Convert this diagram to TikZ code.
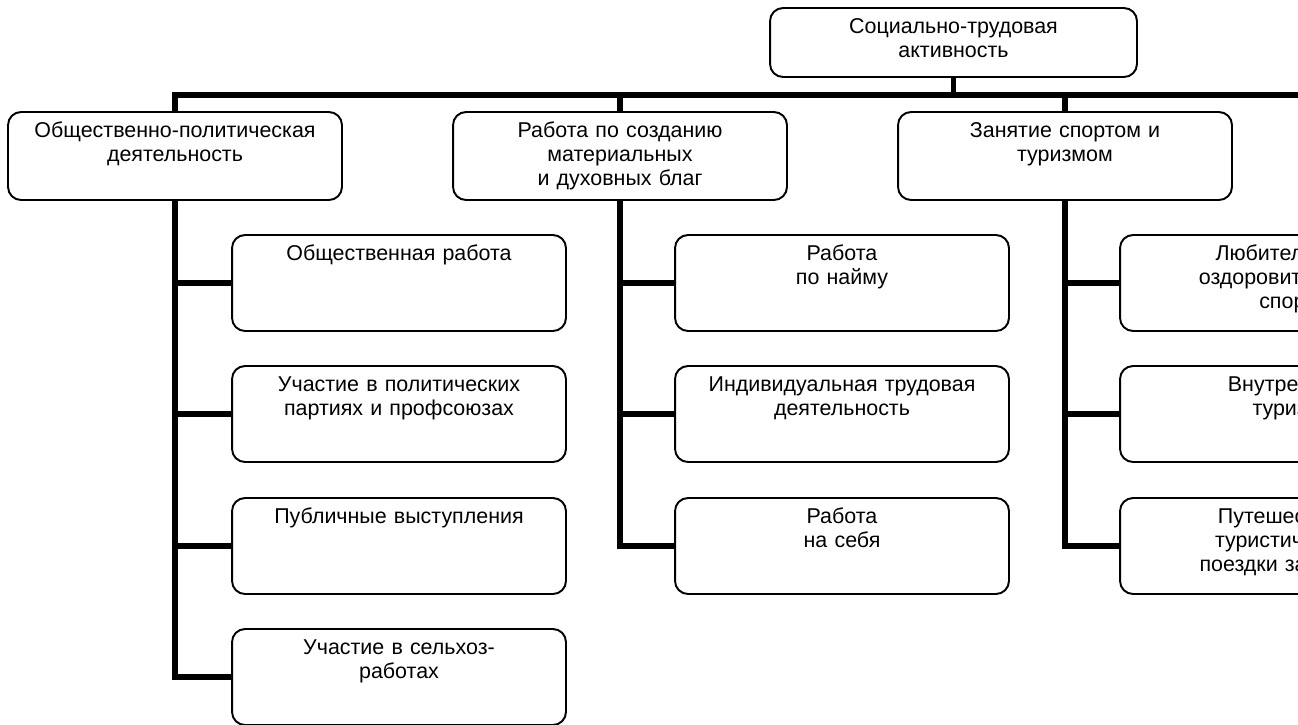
\documentclass[tikz,border=0pt]{standalone}
\usepackage{fontspec}
\setmainfont{Liberation Sans}
\usepackage{tikz}

\begin{document}
\begin{tikzpicture}[x=0.02cm, y=-0.02cm,
  every node/.style={font=\fontsize{12.2}{13.9}\selectfont},
  box/.style={draw, line width=1.1pt, rounded corners=0.26cm, align=center, inner sep=0pt, text height=0.5cm},
  topbox/.style={box, text width=7.34cm, text depth=0.88cm},
  mainbox/.style={box, text width=6.68cm, text depth=1.26cm},
  subbox/.style={box, text width=6.68cm, text depth=1.42cm},
  link/.style={line width=3.3pt}]
\useasboundingbox (0,0) rectangle (1298,724);
% Top box
\node[topbox] (soc) at (953.5,42.5) {Социально-трудовая\\активность};
% Level 1 boxes
\node[mainbox] (obsh) at (175,156) {Общественно-политическая\\деятельность};
\node[mainbox] (rab) at (620,156) {Работа по созданию\\материальных\\и духовных благ};
\node[mainbox] (sport) at (1065,156) {Занятие спортом и\\туризмом};
% Level 2 boxes
\node[subbox] (obsh1) at (399,283) {Общественная работа};
\node[subbox] (obsh2) at (399,414) {Участие в политических\\партиях и профсоюзах};
\node[subbox] (obsh3) at (399,546) {Публичные выступления};
\node[subbox] (obsh4) at (399,677) {Участие в сельхоз-\\работах};
\node[subbox] (rab1) at (842,283) {Работа\\по найму};
\node[subbox] (rab2) at (842,414) {Индивидуальная трудовая\\деятельность};
\node[subbox] (rab3) at (842,546) {Работа\\на себя};
\node[subbox] (sport1) at (1287,283) {Любительский\\оздоровительный\\спорт};
\node[subbox] (sport2) at (1287,414) {Внутренний\\туризм};
\node[subbox] (sport3) at (1287,546) {Путешествия,\\туристические\\поездки за рубеж};
% Bus
\coordinate (busend) at (1300,95);
\draw[link] (obsh.north) |- (busend);
\foreach \n in {soc.south, rab.north, sport.north}
  \draw[link] (\n) -- (\n |- busend);
% Branches
\draw[link] (obsh.south) |- (obsh4.west);
\foreach \n in {obsh1,obsh2,obsh3}
  \draw[link] (obsh.south |- \n.west) -- (\n.west);
\draw[link] (rab.south) |- (rab3.west);
\foreach \n in {rab1,rab2}
  \draw[link] (rab.south |- \n.west) -- (\n.west);
\draw[link] (sport.south) |- (sport3.west);
\foreach \n in {sport1,sport2}
  \draw[link] (sport.south |- \n.west) -- (\n.west);
\end{tikzpicture}
\end{document}
